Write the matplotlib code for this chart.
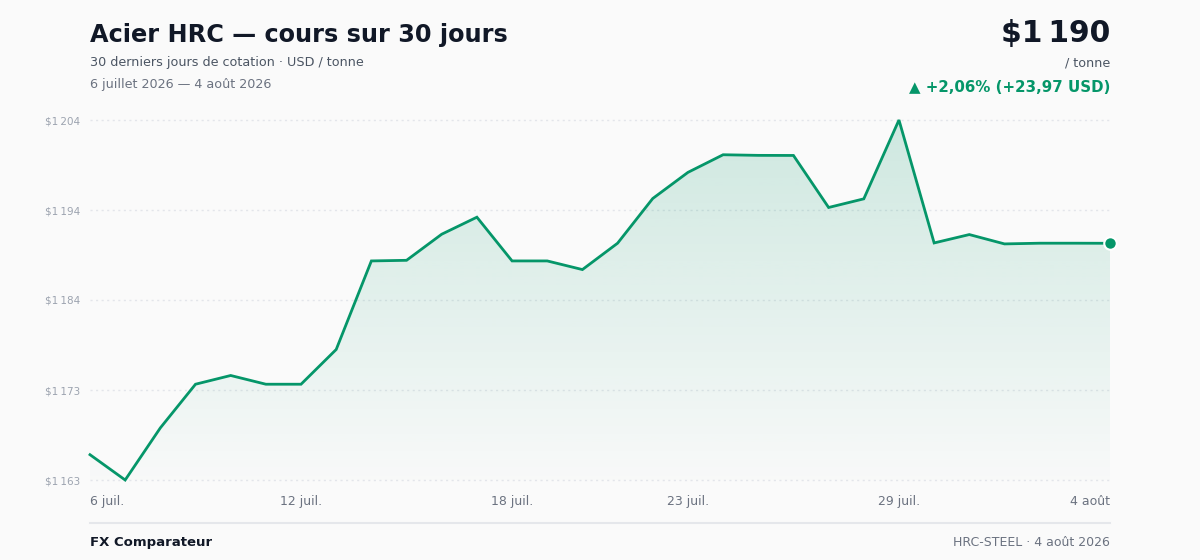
import numpy as np
import matplotlib
matplotlib.use("Agg")
import matplotlib.pyplot as plt
from matplotlib.patches import Polygon

# ---- data ----
days = list(range(30))
prices = [1166.07, 1163.20, 1169.11, 1174.06, 1175.05, 1174.06, 1174.06, 1178.00,
          1188.04, 1188.11, 1191.07, 1193.00, 1188.04, 1188.04, 1187.06, 1190.05,
          1195.12, 1198.08, 1200.08, 1200.01, 1200.00, 1194.10, 1195.08, 1204.02,
          1190.08, 1191.03, 1189.97, 1190.05, 1190.05, 1190.04]
xtick_pos = [0, 6, 12, 17, 23, 29]
xtick_labels = ["6 juil.", "12 juil.", "18 juil.", "23 juil.", "29 juil.", "4 ao\u00fbt"]
title = "Acier HRC \u2014 cours sur 30 jours"
subtitle = "30 derniers jours de cotation \u00b7 USD / tonne"
period = "6 juillet 2026 \u2014 4 ao\u00fbt 2026"
last_label = "$1\u202f190"
unit_label = "/ tonne"
change_label = "\u25b2 +2,06% (+23,97 USD)"
brand = "FX Comparateur"
source = "HRC-STEEL \u00b7 4 ao\u00fbt 2026"

GREEN = "#059669"
BG = "#fafafa"
W, H = 1200, 560

fig = plt.figure(figsize=(12, 5.6), dpi=100, facecolor=BG)

def fx(px):
    return px / W

def fy(py):
    return 1 - py / H

ax = fig.add_axes([fx(90), fy(480), fx(1110) - fx(90), fy(120) - fy(480)])
ax.set_facecolor(BG)
for s in ax.spines.values():
    s.set_visible(False)

ymin, ymax = min(prices), max(prices)
ax.set_xlim(0, len(days) - 1)
ax.set_ylim(ymin, ymax)

yt = np.linspace(ymin, ymax, 5)
ax.set_yticks(yt)
ax.set_yticklabels(["$" + f"{v:,.0f}".replace(",", "\u202f") for v in yt])
for yv in yt:
    ax.axhline(yv, color="#e3e5ea", lw=1, ls=(0, (1.5, 2.5)), zorder=0, clip_on=False)
ax.tick_params(axis="y", length=0, pad=7, labelsize=7.5, labelcolor="#9ca3af")

ax.set_xticks(xtick_pos)
ax.set_xticklabels(xtick_labels)
ax.tick_params(axis="x", length=0, pad=10.5, labelsize=9, labelcolor="#6b7280")
xl = ax.get_xticklabels()
xl[0].set_ha("left")
xl[-1].set_ha("right")

# gradient fill
verts = [(days[0], ymin)] + list(zip(days, prices)) + [(days[-1], ymin)]
poly = Polygon(verts, closed=True, facecolor="none", edgecolor="none")
ax.add_patch(poly)
rgb = matplotlib.colors.to_rgb(GREEN)
n = 256
grad = np.zeros((n, 1, 4))
grad[..., 0], grad[..., 1], grad[..., 2] = rgb
grad[:, 0, 3] = np.linspace(0.01, 0.18, n)
im = ax.imshow(grad, extent=[days[0], days[-1], ymin, ymax], origin="lower",
               aspect="auto", zorder=1, interpolation="bilinear")
im.set_clip_path(poly)

ax.plot(days, prices, color=GREEN, lw=2, zorder=3, clip_on=False,
        solid_joinstyle="miter")
ax.plot([days[-1]], [prices[-1]], "o", ms=9, color=GREEN, mec="white", mew=1.5,
        zorder=4, clip_on=False)

# header text
fig.text(fx(90), fy(42), title, fontsize=17.3, fontweight="bold", color="#111827",
         ha="left", va="baseline")
fig.text(fx(90), fy(66), subtitle, fontsize=9.2, color="#4b5563", ha="left", va="baseline")
fig.text(fx(90), fy(88), period, fontsize=9.2, color="#6b7280", ha="left", va="baseline")

fig.text(fx(1110), fy(42), last_label, fontsize=21.4, fontweight="bold", color="#111827",
         ha="right", va="baseline")
fig.text(fx(1110), fy(66), unit_label, fontsize=9.2, color="#4b5563", ha="right", va="baseline")
fig.text(fx(1110), fy(92), change_label, fontsize=10.8, fontweight="bold", color=GREEN,
         ha="right", va="baseline")

# footer
fig.add_artist(plt.Line2D([fx(90), fx(1110)], [fy(523), fy(523)], color="#e5e7eb", lw=1.5))
fig.text(fx(90), fy(546), brand, fontsize=9.5, fontweight="bold", color="#111827",
         ha="left", va="baseline")
fig.text(fx(1110), fy(546), source, fontsize=9, color="#6b7280", ha="right", va="baseline")

fig.savefig("out.png", dpi=100, facecolor=BG)
